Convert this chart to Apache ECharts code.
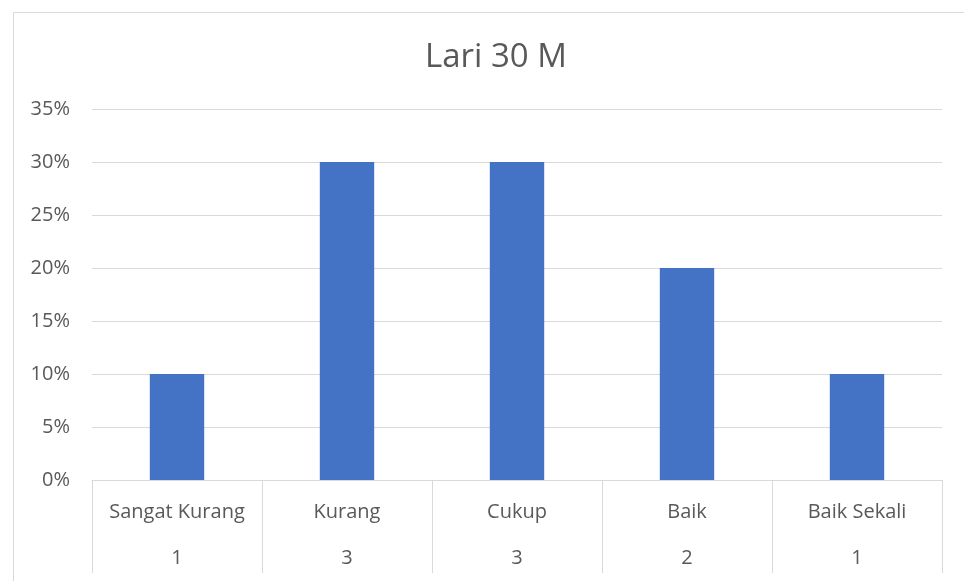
<!DOCTYPE html>
<html>
<head>
<meta charset="utf-8">
<script src="https://cdn.jsdelivr.net/npm/echarts@6/dist/echarts.min.js"></script>
<style>
  html, body { margin: 0; padding: 0; background: #ffffff; }
  #chart { width: 964px; height: 581px; }
</style>
</head>
<body>
<div id="chart"></div>
<script>
// Categories, counts per category and percentage shares
const categories = ['Sangat Kurang', 'Kurang', 'Cukup', 'Baik', 'Baik Sekali'];
const counts = [1, 3, 3, 2, 1];
const percentages = [10, 30, 30, 20, 10];
const yTicks = [0, 5, 10, 15, 20, 25, 30, 35];

const FONT = '"Open Sans", "Noto Sans", sans-serif';
const TEXT = '#595959';
const LINE = '#d9d9d9';

const chart = echarts.init(document.getElementById('chart'));
chart.setOption({
  animation: false,
  backgroundColor: '#ffffff',
  graphic: [{
    type: 'rect',
    left: 11, top: 10,
    shape: { width: 1000, height: 620 },
    style: { fill: 'none', stroke: LINE, lineWidth: 1 },
    silent: true, z: -1
  }],
  title: {
    text: 'Lari 30 M',
    left: 491, top: 36,
    textAlign: 'center',
    textStyle: { fontFamily: FONT, fontSize: 33, fontWeight: 'normal', color: TEXT }
  },
  grid: { left: 92, right: 22, top: 109, bottom: 101, containLabel: false },
  xAxis: {
    type: 'category',
    data: categories,
    axisLine: { lineStyle: { color: LINE, width: 1 } },
    axisTick: { show: true, length: 93, interval: 0, lineStyle: { color: LINE, width: 1 } },
    axisLabel: {
      interval: 0,
      margin: 9,
      formatter: (v, i) => '{a|' + v + '}\n{b|' + counts[i] + '}',
      rich: {
        a: { fontFamily: FONT, fontSize: 20, color: TEXT, lineHeight: 46 },
        b: { fontFamily: FONT, fontSize: 20, color: TEXT, lineHeight: 46 }
      }
    }
  },
  yAxis: {
    type: 'value',
    min: yTicks[0],
    max: yTicks[yTicks.length - 1],
    interval: yTicks[1] - yTicks[0],
    axisLine: { show: false },
    axisTick: { show: false },
    splitLine: { lineStyle: { color: LINE, width: 1 } },
    axisLabel: {
      margin: 22,
      formatter: v => v + '%',
      fontFamily: FONT, fontSize: 20, color: TEXT
    }
  },
  series: [{
    type: 'bar',
    data: percentages,
    barWidth: '32%',
    itemStyle: { color: '#4472c4' }
  }]
});
</script>
</body>
</html>
